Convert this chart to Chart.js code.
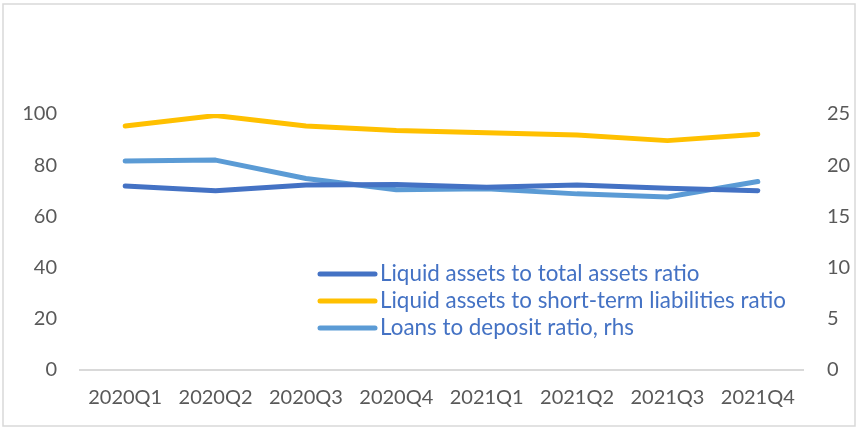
<!DOCTYPE html>
<html>
<head>
<meta charset="utf-8">
<script src="https://cdn.jsdelivr.net/npm/chart.js@4"></script>
<style>
  html, body { margin: 0; padding: 0; background: #ffffff; }
  #wrap { width: 867px; height: 435px; position: relative; }
</style>
</head>
<body>
<div id="wrap"><canvas id="chart" width="867" height="435"></canvas></div>
<script>
// Quarterly liquidity indicators
const quarters = ['2020Q1', '2020Q2', '2020Q3', '2020Q4', '2021Q1', '2021Q2', '2021Q3', '2021Q4'];
const liquidToTotalAssets = [71.9, 70.0, 72.3, 72.5, 71.4, 72.3, 71.0, 70.0];
const liquidToShortTermLiab = [95.3, 99.4, 95.3, 93.6, 92.7, 91.8, 89.6, 92.1];
const loansToDeposits = [20.4, 20.5, 18.7, 17.6, 17.7, 17.2, 16.9, 18.4];
const leftTicks = [0, 20, 40, 60, 80, 100];
const rightTicks = [0, 5, 10, 15, 20, 25];

const FONT = 'Lato, "Open Sans", sans-serif';

// Legend drawn inside the plot area, plus the outer frame
const innerLegend = {
  id: 'innerLegend',
  afterDatasetsDraw(chart) {
    const ctx = chart.ctx;
    const x0 = 320, lineLen = 55, textX = 380;
    const rows = [274, 301, 328];
    ctx.save();
    chart.data.datasets.forEach((ds, i) => {
      const y = rows[i];
      ctx.strokeStyle = ds.borderColor;
      ctx.lineWidth = 5;
      ctx.lineCap = 'round';
      ctx.beginPath();
      ctx.moveTo(x0, y);
      ctx.lineTo(x0 + lineLen, y);
      ctx.stroke();
      ctx.fillStyle = '#4472C4';
      ctx.font = '22.4px ' + FONT;
      ctx.textBaseline = 'middle';
      ctx.textAlign = 'left';
      ctx.fillText(ds.label, textX, y);
    });
    ctx.restore();
  },
  afterDraw(chart) {
    const ctx = chart.ctx;
    ctx.save();
    ctx.strokeStyle = '#D9D9D9';
    ctx.lineWidth = 1.5;
    ctx.strokeRect(3, 4, 852, 422);
    ctx.restore();
  }
};

new Chart(document.getElementById('chart'), {
  type: 'line',
  data: {
    labels: quarters,
    datasets: [
      {
        label: 'Liquid assets to total assets ratio',
        data: liquidToTotalAssets,
        borderColor: '#4472C4',
        yAxisID: 'y'
      },
      {
        label: 'Liquid assets to short-term liabilities ratio',
        data: liquidToShortTermLiab,
        borderColor: '#FFC000',
        yAxisID: 'y'
      },
      {
        label: 'Loans to deposit ratio, rhs',
        data: loansToDeposits,
        borderColor: '#5B9BD5',
        yAxisID: 'y1'
      }
    ]
  },
  options: {
    responsive: false,
    animation: false,
    layout: { padding: { top: 114, left: 0, right: 0, bottom: 0 } },
    elements: {
      line: { borderWidth: 5, tension: 0, borderCapStyle: 'round', borderJoinStyle: 'round', fill: false },
      point: { radius: 0, hoverRadius: 0 }
    },
    plugins: {
      legend: { display: false },
      tooltip: { enabled: false }
    },
    scales: {
      x: {
        offset: true,
        grid: { display: false, drawTicks: false },
        border: { display: true, color: '#D9D9D9', width: 2 },
        ticks: { color: '#595959', font: { family: FONT, size: 20 }, padding: 16, maxRotation: 0, autoSkip: false },
        afterFit(scale) { scale.height = 65; }
      },
      y: {
        position: 'left',
        min: 0, max: 100,
        afterBuildTicks(scale) { scale.ticks = leftTicks.map(v => ({ value: v })); },
        grid: { display: false, drawTicks: false },
        border: { display: false },
        ticks: { color: '#595959', font: { family: FONT, size: 20 }, padding: 23 },
        afterFit(scale) { scale.width = 80; }
      },
      y1: {
        position: 'right',
        min: 0, max: 25,
        afterBuildTicks(scale) { scale.ticks = rightTicks.map(v => ({ value: v })); },
        grid: { display: false, drawTicks: false },
        border: { display: false },
        ticks: { color: '#595959', font: { family: FONT, size: 20 }, padding: 24 },
        afterFit(scale) { scale.width = 64; }
      }
    }
  },
  plugins: [innerLegend]
});
</script>
</body>
</html>
